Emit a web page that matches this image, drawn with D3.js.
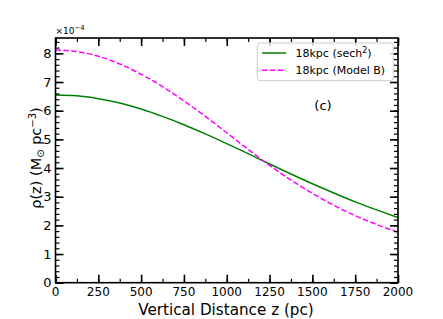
<!DOCTYPE html>
<html>
<head>
<meta charset="utf-8">
<script src="https://cdn.jsdelivr.net/npm/d3@7"></script>
<style>
  body { margin: 0; background: #fff; }
  svg { font-family: "DejaVu Sans", sans-serif; }
</style>
</head>
<body>
<div class="canva"></div>
<script>
// data (units of 1e-4 Msun pc^-3)
const zValues = [0, 125, 250, 375, 500, 625, 750, 875, 1000, 1125, 1250, 1375, 1500, 1625, 1750, 1875, 2000]
const sech2 = [6.55, 6.52, 6.42, 6.27, 6.06, 5.80, 5.51, 5.19, 4.85, 4.50, 4.14, 3.79, 3.45, 3.13, 2.82, 2.54, 2.27]
const modelB = [8.12, 8.06, 7.90, 7.63, 7.27, 6.84, 6.34, 5.80, 5.23, 4.65, 4.09, 3.58, 3.12, 2.70, 2.34, 2.03, 1.76]
const xTicks = [0, 250, 500, 750, 1000, 1250, 1500, 1750, 2000]
const yTicks = [0, 1, 2, 3, 4, 5, 6, 7, 8]
const seriesNames = ['18kpc (sech²)', '18kpc (Model B)']

const W = 443, H = 319
const mLeft = 55.5, mRight = 398, mTop = 38, mBottom = 282.7

const canvas = d3.select('.canva')
const svg = canvas.append('svg')
    .attr('width', W)
    .attr('height', H)

const x = d3.scaleLinear().domain([0, 2000]).range([mLeft, mRight])
const y = d3.scaleLinear().domain([0, 8.535]).range([mBottom, mTop])

const line = d3.line()
    .x((d, i) => x(zValues[i]))
    .y(d => y(d))
    .curve(d3.curveMonotoneX)

//clip to frame
svg.append('clipPath').attr('id', 'clip')
  .append('rect')
    .attr('x', mLeft).attr('y', mTop)
    .attr('width', mRight - mLeft).attr('height', mBottom - mTop)

const plot = svg.append('g').attr('clip-path', 'url(#clip)')

plot.append('path')
    .datum(sech2)
    .attr('d', line)
    .attr('fill', 'none')
    .attr('stroke', 'green')
    .attr('stroke-width', 1.5)

plot.append('path')
    .datum(modelB)
    .attr('d', line)
    .attr('fill', 'none')
    .attr('stroke', '#ff00ff')
    .attr('stroke-width', 1.5)
    .attr('stroke-dasharray', '5.5,2.4')

//axes, ticks inward on all sides
const xMinor = d3.range(0, 2001, 125)
const yMinor = d3.range(0, 8.5, 0.2)

function tickStyle(g, w) {
  g.select('.domain').remove()
  g.selectAll('.tick line').attr('stroke', '#000').attr('stroke-width', w)
}

svg.append('g')
    .attr('transform', `translate(0,${mBottom})`)
    .call(d3.axisTop(x).tickValues(xMinor).tickSize(4).tickFormat(''))
    .call(g => tickStyle(g, 1.2))
svg.append('g')
    .attr('transform', `translate(0,${mTop})`)
    .call(d3.axisBottom(x).tickValues(xMinor).tickSize(4).tickFormat(''))
    .call(g => tickStyle(g, 1.2))
svg.append('g')
    .attr('transform', `translate(${mLeft},0)`)
    .call(d3.axisRight(y).tickValues(yMinor).tickSize(4).tickFormat(''))
    .call(g => tickStyle(g, 1.2))
svg.append('g')
    .attr('transform', `translate(${mRight},0)`)
    .call(d3.axisLeft(y).tickValues(yMinor).tickSize(4).tickFormat(''))
    .call(g => tickStyle(g, 1.2))

svg.append('g')
    .attr('transform', `translate(0,${mBottom})`)
    .call(d3.axisTop(x).tickValues(xTicks).tickSize(8).tickFormat(''))
    .call(g => tickStyle(g, 1.6))
svg.append('g')
    .attr('transform', `translate(0,${mTop})`)
    .call(d3.axisBottom(x).tickValues(xTicks).tickSize(8).tickFormat(''))
    .call(g => tickStyle(g, 1.6))
svg.append('g')
    .attr('transform', `translate(${mLeft},0)`)
    .call(d3.axisRight(y).tickValues(yTicks).tickSize(8).tickFormat(''))
    .call(g => tickStyle(g, 1.6))
svg.append('g')
    .attr('transform', `translate(${mRight},0)`)
    .call(d3.axisLeft(y).tickValues(yTicks).tickSize(8).tickFormat(''))
    .call(g => tickStyle(g, 1.6))

//tick labels
svg.append('g').selectAll('text')
    .data(xTicks)
    .enter().append('text')
    .text(d => d)
    .attr('x', d => x(d))
    .attr('y', mBottom + 13.5)
    .attr('text-anchor', 'middle')
    .attr('font-size', '12px')
    .attr('fill', '#000')

svg.append('g').selectAll('text')
    .data(yTicks)
    .enter().append('text')
    .text(d => d)
    .attr('x', mLeft - 4)
    .attr('y', d => y(d) + 4.5)
    .attr('text-anchor', 'end')
    .attr('font-size', '13px')
    .attr('fill', '#000')

//frame
svg.append('rect')
    .attr('x', mLeft).attr('y', mTop)
    .attr('width', mRight - mLeft).attr('height', mBottom - mTop)
    .attr('fill', 'none')
    .attr('stroke', '#000')
    .attr('stroke-width', 1.6)

//offset text
const off = svg.append('text')
    .attr('x', mLeft).attr('y', 34)
    .attr('font-size', '9px')
off.append('tspan').text('×10')
off.append('tspan').text('−4').attr('dy', -4).attr('font-size', '7px')

//axis labels
svg.append('text')
    .text('Vertical Distance z (pc)')
    .attr('x', 226)
    .attr('y', 315)
    .attr('text-anchor', 'middle')
    .attr('font-size', '15.2px')

const yl = svg.append('text')
    .attr('transform', `translate(41,158) rotate(-90)`)
    .attr('text-anchor', 'middle')
    .attr('font-size', '14.5px')
yl.append('tspan').text('ρ(z) (M')
yl.append('tspan').text('⊙').attr('font-size', '10px').attr('dy', 3)
yl.append('tspan').text(' pc').attr('dy', -3)
yl.append('tspan').text('−3').attr('font-size', '10px').attr('dy', -5)
yl.append('tspan').text(')').attr('dy', 5)

//legend
const leg = svg.append('g')
leg.append('rect')
    .attr('x', 257.3).attr('y', 43)
    .attr('width', 136).attr('height', 37.7)
    .attr('rx', 3)
    .attr('fill', '#fff').attr('fill-opacity', 0.8)
    .attr('stroke', '#ccc').attr('stroke-width', 1)

const legColors = ['green', '#ff00ff']
const legDash = [null, '5.5,2.4']
seriesNames.forEach((name, i) => {
  const ly = 53 + i * 17.3
  leg.append('line')
      .attr('x1', 262).attr('x2', 286)
      .attr('y1', ly).attr('y2', ly)
      .attr('stroke', legColors[i])
      .attr('stroke-width', 1.5)
      .attr('stroke-dasharray', legDash[i])
  const t = leg.append('text')
      .attr('x', 295.5).attr('y', ly + 4)
      .attr('font-size', '11px')
  if (i === 0) {
    t.append('tspan').text('18kpc (sech')
    t.append('tspan').text('2').attr('font-size', '8px').attr('dy', -4)
    t.append('tspan').text(')').attr('dy', 4)
  } else {
    t.text(name)
  }
})

svg.append('text')
    .text('(c)')
    .attr('x', 323)
    .attr('y', 110)
    .attr('text-anchor', 'middle')
    .attr('font-size', '13px')
</script>
</body>
</html>
